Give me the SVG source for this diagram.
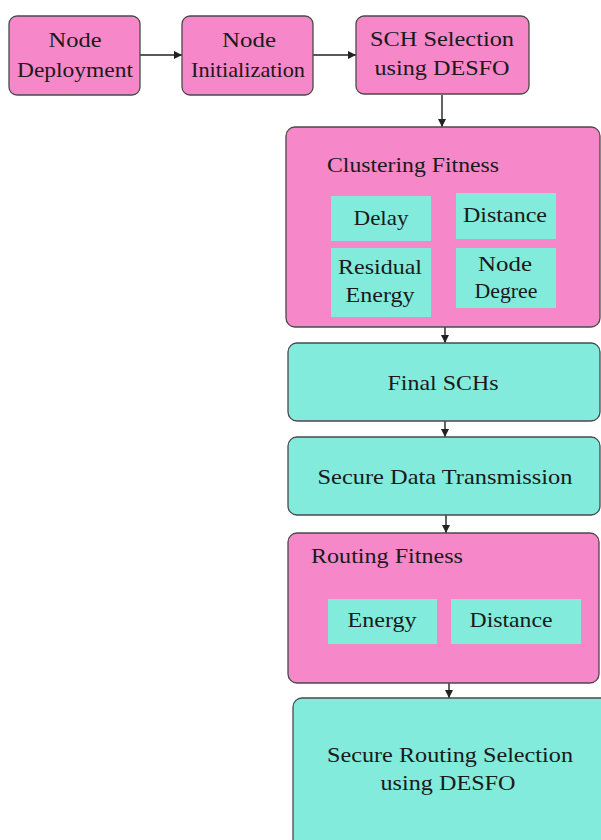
<svg xmlns="http://www.w3.org/2000/svg" width="601" height="840" viewBox="0 0 601 840">
  <style>
    .pink { fill: #F687C8; stroke: #4a4a4a; stroke-width: 1.3; }
    .teal { fill: #82EBDC; stroke: #4a4a4a; stroke-width: 1.3; }
    .cell { fill: #82EBDC; stroke: none; }
    text { font-size: 21px; fill: #1a1a1a; }
    .c { text-anchor: middle; }
    .edge { stroke: #222; stroke-width: 1.4; fill: none; marker-end: url(#head); }
  </style>
  <defs>
    <marker id="head" viewBox="0 0 10 10" refX="10" refY="5" markerWidth="8" markerHeight="8" markerUnits="userSpaceOnUse" orient="auto">
      <path d="M0,0 L10,5 L0,10 z" fill="#222"/>
    </marker>
  </defs>

  <rect width="601" height="840" fill="#ffffff"/>

  <g id="connectors">
    <line class="edge" x1="140" y1="55" x2="182" y2="55"/>
    <line class="edge" x1="313" y1="55" x2="356" y2="55"/>
    <line class="edge" x1="442" y1="95" x2="442" y2="127"/>
    <line class="edge" x1="445" y1="327" x2="445" y2="343"/>
    <line class="edge" x1="445" y1="421" x2="445" y2="437"/>
    <line class="edge" x1="446" y1="515" x2="446" y2="533"/>
    <line class="edge" x1="449" y1="683" x2="449" y2="698"/>
  </g>

  <g font-family="'Liberation Serif', 'Times New Roman', 'DejaVu Serif', serif">
  <g id="node-deployment">
    <rect class="pink" x="9" y="16" width="131" height="79" rx="8"/>
    <text class="c" x="75" y="47" textLength="53" lengthAdjust="spacingAndGlyphs">Node</text>
    <text class="c" x="75" y="77" textLength="116" lengthAdjust="spacingAndGlyphs">Deployment</text>
  </g>

  <g id="node-initialization">
    <rect class="pink" x="182" y="16" width="131" height="79" rx="8"/>
    <text class="c" x="249" y="47" textLength="54" lengthAdjust="spacingAndGlyphs">Node</text>
    <text class="c" x="248" y="77" textLength="114" lengthAdjust="spacingAndGlyphs">Initialization</text>
  </g>

  <g id="sch-selection">
    <rect class="pink" x="356" y="16" width="173" height="78" rx="8"/>
    <text class="c" x="442" y="46" textLength="144" lengthAdjust="spacingAndGlyphs">SCH Selection</text>
    <text class="c" x="442" y="75" textLength="135" lengthAdjust="spacingAndGlyphs">using DESFO</text>
  </g>

  <g id="clustering-fitness">
    <rect class="pink" x="286" y="127" width="314" height="200" rx="9"/>
    <text x="327" y="172" textLength="172" lengthAdjust="spacingAndGlyphs">Clustering Fitness</text>
    <g id="delay">
      <rect class="cell" x="331" y="196" width="100" height="45"/>
      <text class="c" x="381" y="225" textLength="55" lengthAdjust="spacingAndGlyphs">Delay</text>
    </g>
    <g id="distance-c">
      <rect class="cell" x="456" y="193" width="100" height="46"/>
      <text class="c" x="505" y="222" textLength="84" lengthAdjust="spacingAndGlyphs">Distance</text>
    </g>
    <g id="residual-energy">
      <rect class="cell" x="331" y="248" width="100" height="69"/>
      <text class="c" x="380" y="274" textLength="84" lengthAdjust="spacingAndGlyphs">Residual</text>
      <text class="c" x="380" y="302" textLength="69" lengthAdjust="spacingAndGlyphs">Energy</text>
    </g>
    <g id="node-degree">
      <rect class="cell" x="456" y="248" width="100" height="60"/>
      <text class="c" x="505" y="271" textLength="54" lengthAdjust="spacingAndGlyphs">Node</text>
      <text class="c" x="506" y="298" textLength="63" lengthAdjust="spacingAndGlyphs">Degree</text>
    </g>
  </g>

  <g id="final-schs">
    <rect class="teal" x="288" y="343" width="312" height="78" rx="9"/>
    <text class="c" x="443" y="390" textLength="111" lengthAdjust="spacingAndGlyphs">Final SCHs</text>
  </g>

  <g id="secure-data-transmission">
    <rect class="teal" x="288" y="437" width="312" height="78" rx="9"/>
    <text class="c" x="445" y="484" textLength="255" lengthAdjust="spacingAndGlyphs">Secure Data Transmission</text>
  </g>

  <g id="routing-fitness">
    <rect class="pink" x="288" y="533" width="311" height="150" rx="9"/>
    <text x="311" y="563" textLength="152" lengthAdjust="spacingAndGlyphs">Routing Fitness</text>
    <g id="energy-r">
      <rect class="cell" x="328" y="599" width="109" height="45"/>
      <text class="c" x="382" y="627" textLength="69" lengthAdjust="spacingAndGlyphs">Energy</text>
    </g>
    <g id="distance-r">
      <rect class="cell" x="451" y="599" width="130" height="45"/>
      <text class="c" x="511" y="627" textLength="83" lengthAdjust="spacingAndGlyphs">Distance</text>
    </g>
  </g>

  <g id="secure-routing-selection">
    <rect class="teal" x="293" y="698" width="320" height="160" rx="9"/>
    <text class="c" x="450" y="762" textLength="246" lengthAdjust="spacingAndGlyphs">Secure Routing Selection</text>
    <text class="c" x="448" y="790" textLength="135" lengthAdjust="spacingAndGlyphs">using DESFO</text>
  </g>
  </g>
</svg>
